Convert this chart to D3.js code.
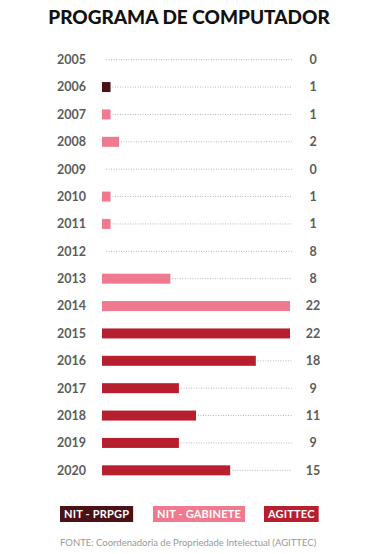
<!DOCTYPE html>
<html>
<head>
<meta charset="utf-8">
<script src="https://cdn.jsdelivr.net/npm/d3@7"></script>
<style>
  html, body { margin:0; padding:0; background:#fff; }
  svg { display:block; font-family: Lato, "Open Sans", sans-serif; }
</style>
</head>
<body>
<svg id="chart" width="374" height="554"></svg>
<script>
// --- data --------------------------------------------------------------------
const years   = ['2005','2006','2007','2008','2009','2010','2011','2012','2013','2014','2015','2016','2017','2018','2019','2020'];
const source  = [null,'NIT - PRPGP','NIT - GABINETE','NIT - GABINETE',null,'NIT - GABINETE','NIT - GABINETE',null,'NIT - GABINETE','NIT - GABINETE','AGITTEC','AGITTEC','AGITTEC','AGITTEC','AGITTEC','AGITTEC'];
const barVals = [0,1,1,2,0,1,1,0,8,22,22,18,9,11,9,15];
const totals  = [0,1,1,2,0,1,1,8,8,22,22,18,9,11,9,15];
const groups  = ['NIT - PRPGP','NIT - GABINETE','AGITTEC'];
const colors  = ['#4a1117','#ef7a8f','#b71f2e'];

(function(){
  const svg = d3.select('#chart');
  const color = d3.scaleOrdinal(groups, colors);

  const x = d3.scaleLinear().domain([0, 22]).range([102, 290]);
  const y = d3.scaleBand().domain(years).range([46, 484]).paddingInner(0);
  const bh = 10;
  const cy = d => y(d) + y.bandwidth()/2;

  // title
  svg.append('text')
    .attr('x', 189).attr('y', 24)
    .attr('text-anchor','middle')
    .attr('font-size', 19).attr('font-weight', 900)
    .attr('fill','#111')
    .text('PROGRAMA DE COMPUTADOR');

  const rows = years.map((yr,i)=>({yr, v:barVals[i], t:totals[i], s:source[i]}));
  const row = svg.append('g').selectAll('g').data(rows).join('g');

  // dotted guide
  row.append('line')
    .attr('x1', d => d.v ? x(d.v) + 2 : 106)
    .attr('x2', 292)
    .attr('y1', d => cy(d.yr)).attr('y2', d => cy(d.yr))
    .attr('stroke','#b5b5b5').attr('stroke-width',1)
    .attr('stroke-dasharray','1,1.5');

  // bars
  row.filter(d => d.v > 0).append('rect')
    .attr('x', x(0))
    .attr('y', d => cy(d.yr) - bh/2)
    .attr('width', d => x(d.v) - x(0))
    .attr('height', bh)
    .attr('fill', d => color(d.s));

  // year labels
  row.append('text')
    .attr('x', 86).attr('y', d => cy(d.yr))
    .attr('dy','0.35em').attr('text-anchor','end')
    .attr('font-size', 12.5).attr('font-weight', 700)
    .attr('fill','#5c5c5c')
    .text(d => d.yr);

  // totals
  row.append('text')
    .attr('x', 313).attr('y', d => cy(d.yr))
    .attr('dy','0.35em').attr('text-anchor','middle')
    .attr('font-size', 12.5).attr('font-weight', 700)
    .attr('fill','#5c5c5c')
    .text(d => d.t);

  // legend
  const legX = [60, 153, 264];
  const leg = svg.append('g').selectAll('g').data(groups).join('g')
    .attr('transform', (d,i) => `translate(${legX[i]},506)`);
  leg.each(function(d){
    const g = d3.select(this);
    const t = g.append('text')
      .attr('x', 4).attr('y', 8).attr('dy','0.35em')
      .attr('font-size', 11).attr('font-weight', 700)
      .attr('fill','#fff').attr('letter-spacing', 0.2)
      .text(d);
    const w = t.node().getComputedTextLength() + 8;
    g.insert('rect','text')
      .attr('width', w).attr('height', 16)
      .attr('fill', color(d));
  });

  // source note
  svg.append('text')
    .attr('x', 60).attr('y', 546)
    .attr('font-size', 9.5).attr('fill','#999')
    .text('FONTE: Coordenadoria de Propriedade Intelectual (AGITTEC)');
})();
</script>
</body>
</html>
